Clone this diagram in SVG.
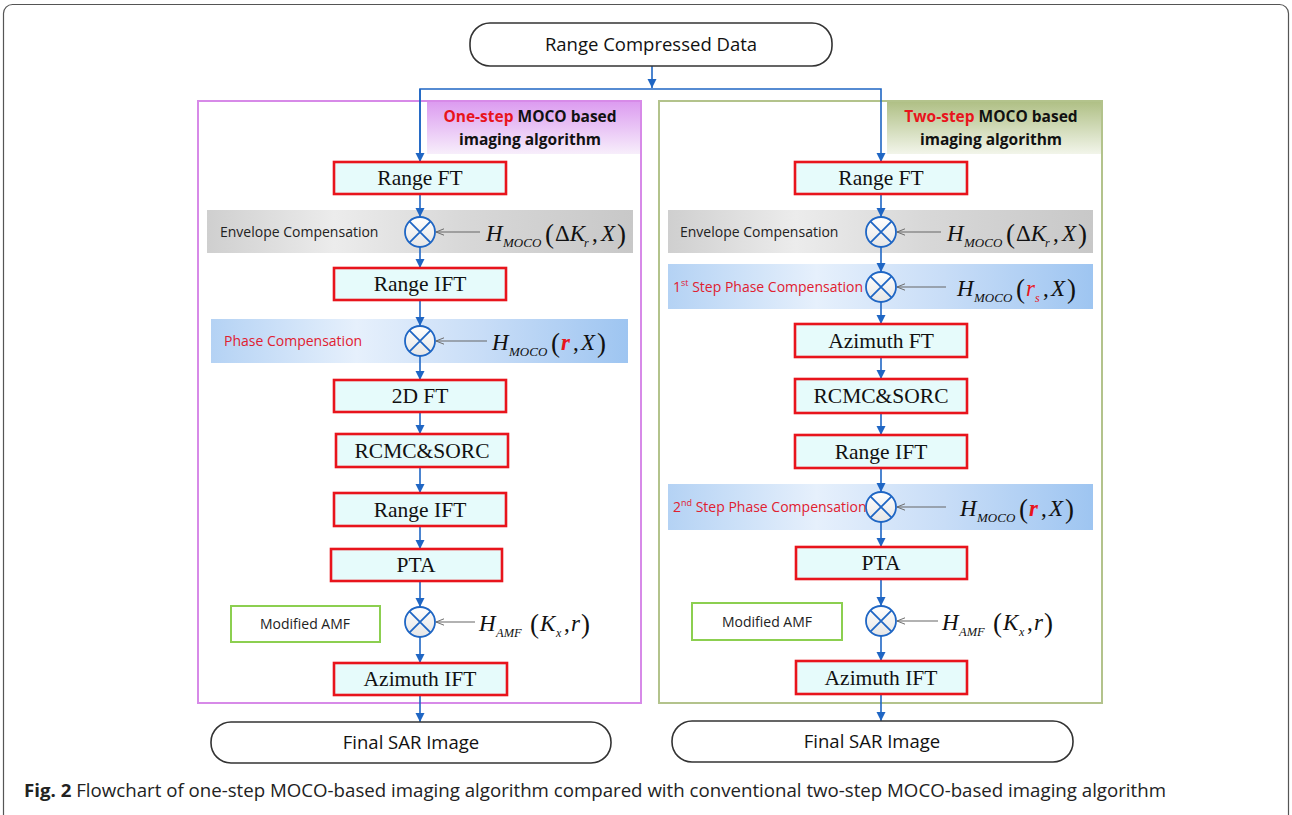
<svg xmlns="http://www.w3.org/2000/svg" width="1292" height="815" viewBox="0 0 1292 815">
<defs>
<style>
.frame{fill:#fff;stroke:#555;stroke-width:1.2}
.pill{fill:#fff;stroke:#333;stroke-width:1.6}
.pilltxt{font-family:"Open Sans","Liberation Sans",sans-serif;font-size:18.5px;fill:#111;text-anchor:middle}
.box{fill:#e6fbfb;stroke:#e8141c;stroke-width:2.6}
.boxtxt{font-family:"Liberation Serif","Times New Roman",serif;font-size:21.5px;fill:#111;text-anchor:middle}
.hdr{font-family:"Open Sans","Liberation Sans",sans-serif;font-size:15.5px;font-weight:bold;fill:#111;text-anchor:middle}
.red{fill:#e8141c}
.lbl{font-family:"Open Sans","Liberation Sans",sans-serif;font-size:14px;fill:#222}
.lblred{font-family:"Open Sans","Liberation Sans",sans-serif;font-size:14px;fill:#e02030}
.amf{fill:#fff;stroke:#8ccf50;stroke-width:2}
.mul{fill:url(#gCirc);stroke:#1f66c4;stroke-width:1.8}
.mulx{stroke:#1f66c4;stroke-width:1.8}
.flow{fill:none;stroke:#1f66c4;stroke-width:1.6}
.feed{fill:none;stroke:#666;stroke-width:1.1}
.m{font-family:"Liberation Serif","Times New Roman",serif;fill:#111}
.mi{font-style:italic}
.cap{font-family:"Open Sans","Liberation Sans",sans-serif;font-size:18px;fill:#222}
</style>
<marker id="arr" viewBox="0 0 10 10" refX="10" refY="5" markerWidth="9" markerHeight="11" markerUnits="userSpaceOnUse" orient="auto">
<path d="M0,0 L10,5 L0,10 z" fill="#1f66c4"/>
</marker>
<marker id="open" viewBox="0 0 10 10" refX="10" refY="5" markerWidth="8" markerHeight="8" markerUnits="userSpaceOnUse" orient="auto">
<path d="M0,1 L10,5 L0,9" fill="none" stroke="#666" stroke-width="1.2"/>
</marker>
<linearGradient id="gPink" x1="0" y1="0" x2="0" y2="1">
<stop offset="0" stop-color="#dc9cf0"/><stop offset="1" stop-color="#f7eefb"/>
</linearGradient>
<linearGradient id="gOlive" x1="0" y1="0" x2="0" y2="1">
<stop offset="0" stop-color="#b0c086"/><stop offset="1" stop-color="#f2f5ea"/>
</linearGradient>
<linearGradient id="gGray" x1="0" y1="0" x2="1" y2="0">
<stop offset="0" stop-color="#cfcfcf"/><stop offset="0.3" stop-color="#ececec"/><stop offset="0.6" stop-color="#d8d8d8"/><stop offset="1" stop-color="#c8c8c8"/>
</linearGradient>
<linearGradient id="gBlue" x1="0" y1="0" x2="1" y2="0">
<stop offset="0" stop-color="#b4d2f4"/><stop offset="0.35" stop-color="#e6f0fc"/><stop offset="0.65" stop-color="#c8ddf7"/><stop offset="1" stop-color="#9ec5f1"/>
</linearGradient>
<linearGradient id="gCirc" x1="0" y1="0" x2="0" y2="1">
<stop offset="0" stop-color="#ffffff"/><stop offset="1" stop-color="#e6e6e6"/>
</linearGradient>
</defs>

<rect class="frame" x="3.5" y="4.5" width="1285" height="840" rx="9"/>

<!-- panels -->
<g id="panel-left">
<rect x="198" y="101" width="443" height="602" fill="none" stroke="#d78ae8" stroke-width="2"/>
<rect x="427" y="102" width="213" height="52" fill="url(#gPink)"/>
<text class="hdr" x="530" y="122"><tspan class="red">One-step</tspan> MOCO based</text>
<text class="hdr" x="530" y="145">imaging algorithm</text>
</g>
<g id="panel-right">
<rect x="659" y="101" width="443" height="602" fill="none" stroke="#b3c38c" stroke-width="2"/>
<rect x="887" y="102" width="214" height="52" fill="url(#gOlive)"/>
<text class="hdr" x="991" y="122"><tspan class="red">Two-step</tspan> MOCO based</text>
<text class="hdr" x="991" y="145">imaging algorithm</text>
</g>

<!-- bands -->
<g id="band-env-left"><rect x="207" y="210" width="426" height="43" fill="url(#gGray)"/><text class="lbl" x="220" y="237">Envelope Compensation</text></g>
<g id="band-phase-left"><rect x="211" y="319" width="417" height="44" fill="url(#gBlue)"/><text class="lblred" x="224" y="346">Phase Compensation</text></g>
<g id="band-env-right"><rect x="668" y="210" width="425" height="43" fill="url(#gGray)"/><text class="lbl" x="680" y="237">Envelope Compensation</text></g>
<g id="band-phase1-right"><rect x="668" y="264" width="425" height="45" fill="url(#gBlue)"/><text class="lblred" x="673" y="292" font-size="13.5">1<tspan font-size="9" dy="-6">st</tspan><tspan dy="6"> Step Phase Compensation</tspan></text></g>
<g id="band-phase2-right"><rect x="668" y="484" width="425" height="46" fill="url(#gBlue)"/><text class="lblred" x="673" y="512" font-size="13.5">2<tspan font-size="9" dy="-6">nd</tspan><tspan dy="6"> Step Phase Compensation</tspan></text></g>

<!-- connectors -->
<g id="connectors">
<path class="flow" d="M652,66 V88" marker-end="url(#arr)"/>
<path class="flow" d="M420,162 V89 H881 V162" marker-end="url(#arr)"/>
<path class="flow" d="M420,89 V162" marker-end="url(#arr)"/>
<!-- left -->
<path class="flow" d="M420,194 V217" marker-end="url(#arr)"/>
<path class="flow" d="M420,247 V268" marker-end="url(#arr)"/>
<path class="flow" d="M420,300 V326" marker-end="url(#arr)"/>
<path class="flow" d="M420,356 V380" marker-end="url(#arr)"/>
<path class="flow" d="M420,412 V434" marker-end="url(#arr)"/>
<path class="flow" d="M420,467 V493" marker-end="url(#arr)"/>
<path class="flow" d="M420,526 V549" marker-end="url(#arr)"/>
<path class="flow" d="M420,581 V607" marker-end="url(#arr)"/>
<path class="flow" d="M420,637 V663" marker-end="url(#arr)"/>
<path class="flow" d="M420,695 V722" marker-end="url(#arr)"/>
<path class="feed" d="M480,232 H436" marker-end="url(#open)"/>
<path class="feed" d="M487,341 H436" marker-end="url(#open)"/>
<path class="feed" d="M475,622 H436" marker-end="url(#open)"/>
<!-- right -->
<path class="flow" d="M881,194 V217" marker-end="url(#arr)"/>
<path class="flow" d="M881,247 V272" marker-end="url(#arr)"/>
<path class="flow" d="M881,302 V324" marker-end="url(#arr)"/>
<path class="flow" d="M881,357 V379" marker-end="url(#arr)"/>
<path class="flow" d="M881,413 V435" marker-end="url(#arr)"/>
<path class="flow" d="M881,468 V492" marker-end="url(#arr)"/>
<path class="flow" d="M881,522 V547" marker-end="url(#arr)"/>
<path class="flow" d="M881,579 V606" marker-end="url(#arr)"/>
<path class="flow" d="M881,636 V661" marker-end="url(#arr)"/>
<path class="flow" d="M881,694 V721" marker-end="url(#arr)"/>
<path class="feed" d="M941,232 H897" marker-end="url(#open)"/>
<path class="feed" d="M946,287 H897" marker-end="url(#open)"/>
<path class="feed" d="M946,507 H897" marker-end="url(#open)"/>
<path class="feed" d="M938,621 H897" marker-end="url(#open)"/>
</g>

<!-- terminals -->
<g id="n-range-compressed"><rect class="pill" x="470" y="23" width="362" height="43" rx="20"/><text class="pilltxt" x="651" y="51">Range Compressed Data</text></g>
<g id="n-final-left"><rect class="pill" x="211" y="722" width="400" height="41" rx="20"/><text class="pilltxt" x="411" y="749">Final SAR Image</text></g>
<g id="n-final-right"><rect class="pill" x="672" y="721" width="401" height="41" rx="20"/><text class="pilltxt" x="872" y="748">Final SAR Image</text></g>

<!-- left boxes -->
<g id="l-rangeft"><rect class="box" x="334" y="162" width="172" height="32"/><text class="boxtxt" x="420" y="185">Range FT</text></g>
<g id="l-rangeift1"><rect class="box" x="334" y="268" width="172" height="32"/><text class="boxtxt" x="420" y="291">Range IFT</text></g>
<g id="l-2dft"><rect class="box" x="334" y="380" width="172" height="32"/><text class="boxtxt" x="420" y="403">2D FT</text></g>
<g id="l-rcmc"><rect class="box" x="336" y="434" width="172" height="33"/><text class="boxtxt" x="422" y="458">RCMC&amp;SORC</text></g>
<g id="l-rangeift2"><rect class="box" x="334" y="493" width="172" height="33"/><text class="boxtxt" x="420" y="517">Range IFT</text></g>
<g id="l-pta"><rect class="box" x="331" y="549" width="171" height="32"/><text class="boxtxt" x="416" y="572">PTA</text></g>
<g id="l-aziift"><rect class="box" x="334" y="663" width="173" height="32"/><text class="boxtxt" x="420" y="686">Azimuth IFT</text></g>
<g id="l-amf"><rect class="amf" x="231" y="606" width="149" height="36"/><text class="lbl" x="305" y="629" text-anchor="middle" font-size="13.5">Modified AMF</text></g>

<!-- right boxes -->
<g id="r-rangeft"><rect class="box" x="795" y="162" width="172" height="32"/><text class="boxtxt" x="881" y="185">Range FT</text></g>
<g id="r-aziFT"><rect class="box" x="795" y="324" width="172" height="33"/><text class="boxtxt" x="881" y="348">Azimuth FT</text></g>
<g id="r-rcmc"><rect class="box" x="795" y="379" width="172" height="34"/><text class="boxtxt" x="881" y="403">RCMC&amp;SORC</text></g>
<g id="r-rangeift"><rect class="box" x="795" y="435" width="172" height="33"/><text class="boxtxt" x="881" y="459">Range IFT</text></g>
<g id="r-pta"><rect class="box" x="796" y="547" width="171" height="32"/><text class="boxtxt" x="881" y="570">PTA</text></g>
<g id="r-aziift"><rect class="box" x="796" y="661" width="171" height="33"/><text class="boxtxt" x="881" y="685">Azimuth IFT</text></g>
<g id="r-amf"><rect class="amf" x="692" y="603" width="150" height="37"/><text class="lbl" x="767" y="627" text-anchor="middle" font-size="13.5">Modified AMF</text></g>

<!-- multipliers -->
<g id="mul-l1"><circle class="mul" cx="420" cy="232" r="15"/><path class="mulx" d="M409.4,221.4 L430.6,242.6 M430.6,221.4 L409.4,242.6"/></g>
<g id="mul-l2"><circle class="mul" cx="420" cy="341" r="15"/><path class="mulx" d="M409.4,330.4 L430.6,351.6 M430.6,330.4 L409.4,351.6"/></g>
<g id="mul-l3"><circle class="mul" cx="420" cy="622" r="15"/><path class="mulx" d="M409.4,611.4 L430.6,632.6 M430.6,611.4 L409.4,632.6"/></g>
<g id="mul-r1"><circle class="mul" cx="881" cy="232" r="15"/><path class="mulx" d="M870.4,221.4 L891.6,242.6 M891.6,221.4 L870.4,242.6"/></g>
<g id="mul-r2"><circle class="mul" cx="881" cy="287" r="15"/><path class="mulx" d="M870.4,276.4 L891.6,297.6 M891.6,276.4 L870.4,297.6"/></g>
<g id="mul-r3"><circle class="mul" cx="881" cy="507" r="15"/><path class="mulx" d="M870.4,496.4 L891.6,517.6 M891.6,496.4 L870.4,517.6"/></g>
<g id="mul-r4"><circle class="mul" cx="881" cy="621" r="15"/><path class="mulx" d="M870.4,610.4 L891.6,631.6 M891.6,610.4 L870.4,631.6"/></g>

<!-- formulas -->
<g id="f-l-env" class="m">
<text x="486" y="241" font-size="23" class="mi">H</text>
<text x="503" y="247" font-size="13" class="mi">MOCO</text>
<text x="545" y="243" font-size="27">(</text>
<text x="555" y="241" font-size="23">Δ<tspan class="mi">K</tspan></text>
<text x="584" y="247" font-size="12" class="mi">r</text>
<text x="592" y="241" font-size="23">,</text>
<text x="601" y="241" font-size="23" class="mi">X</text>
<text x="617" y="243" font-size="27">)</text>
</g>
<g id="f-l-phase" class="m">
<text x="492" y="350" font-size="23" class="mi">H</text>
<text x="509" y="356" font-size="13" class="mi">MOCO</text>
<text x="551" y="352" font-size="27">(</text>
<text x="561" y="350" font-size="23" class="mi" font-weight="bold" fill="#e8141c">r</text>
<text x="573" y="350" font-size="23">,</text>
<text x="581" y="350" font-size="23" class="mi">X</text>
<text x="597" y="352" font-size="27">)</text>
</g>
<g id="f-l-amf" class="m">
<text x="479" y="631" font-size="23" class="mi">H</text>
<text x="496" y="637" font-size="12.5" class="mi">AMF</text>
<text x="530" y="633" font-size="27">(</text>
<text x="540" y="631" font-size="23" class="mi">K</text>
<text x="556" y="637" font-size="12" class="mi">x</text>
<text x="564" y="631" font-size="23">,</text>
<text x="571" y="631" font-size="23" class="mi">r</text>
<text x="581" y="633" font-size="27">)</text>
</g>
<g id="f-r-env" class="m">
<text x="947" y="241" font-size="23" class="mi">H</text>
<text x="964" y="247" font-size="13" class="mi">MOCO</text>
<text x="1006" y="243" font-size="27">(</text>
<text x="1016" y="241" font-size="23">Δ<tspan class="mi">K</tspan></text>
<text x="1045" y="247" font-size="12" class="mi">r</text>
<text x="1053" y="241" font-size="23">,</text>
<text x="1062" y="241" font-size="23" class="mi">X</text>
<text x="1078" y="243" font-size="27">)</text>
</g>
<g id="f-r-phase1" class="m">
<text x="957" y="296" font-size="23" class="mi">H</text>
<text x="974" y="302" font-size="13" class="mi">MOCO</text>
<text x="1016" y="298" font-size="27">(</text>
<text x="1026" y="296" font-size="23" class="mi" fill="#e8141c">r</text>
<text x="1035" y="302" font-size="12" class="mi" fill="#e8141c">s</text>
<text x="1043" y="296" font-size="23">,</text>
<text x="1051" y="296" font-size="23" class="mi">X</text>
<text x="1067" y="298" font-size="27">)</text>
</g>
<g id="f-r-phase2" class="m">
<text x="960" y="516" font-size="23" class="mi">H</text>
<text x="977" y="522" font-size="13" class="mi">MOCO</text>
<text x="1019" y="518" font-size="27">(</text>
<text x="1029" y="516" font-size="23" class="mi" font-weight="bold" fill="#e8141c">r</text>
<text x="1041" y="516" font-size="23">,</text>
<text x="1049" y="516" font-size="23" class="mi">X</text>
<text x="1065" y="518" font-size="27">)</text>
</g>
<g id="f-r-amf" class="m">
<text x="942" y="630" font-size="23" class="mi">H</text>
<text x="959" y="636" font-size="12.5" class="mi">AMF</text>
<text x="993" y="632" font-size="27">(</text>
<text x="1003" y="630" font-size="23" class="mi">K</text>
<text x="1019" y="636" font-size="12" class="mi">x</text>
<text x="1027" y="630" font-size="23">,</text>
<text x="1034" y="630" font-size="23" class="mi">r</text>
<text x="1044" y="632" font-size="27">)</text>
</g>

<text class="cap" x="24" y="797" textLength="1142" lengthAdjust="spacingAndGlyphs"><tspan font-weight="bold">Fig. 2</tspan> Flowchart of one-step MOCO-based imaging algorithm compared with conventional two-step MOCO-based imaging algorithm</text>
</svg>
